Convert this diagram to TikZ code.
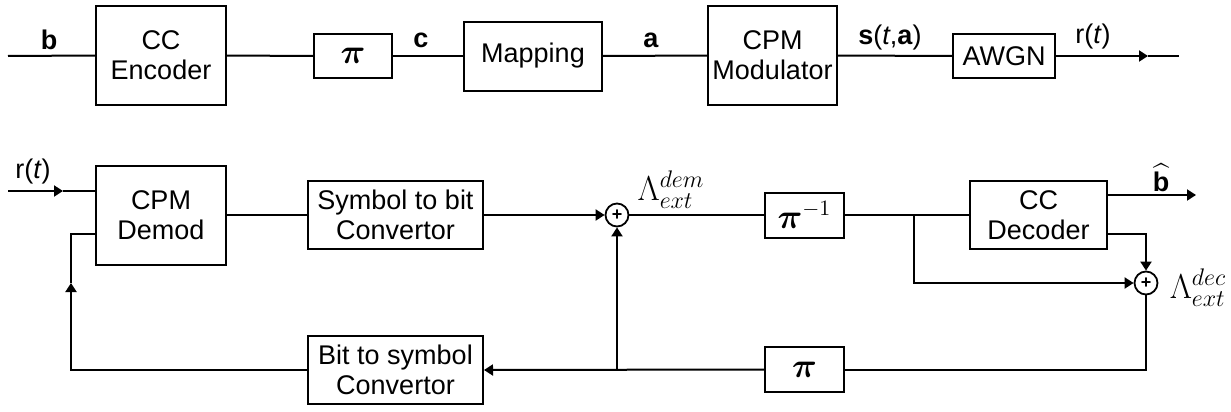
\documentclass[tikz,border=0pt]{standalone}
\usepackage{amsmath}
\usepackage{fontspec}
\setmainfont{Liberation Sans}
\usetikzlibrary{arrows.meta, positioning, calc}

\begin{document}
\begin{tikzpicture}[
    x=0.5pt, y=-0.5pt,
    line width=1pt,
    block/.style={rectangle, draw, line width=1pt, inner sep=1pt, minimum width=#1, align=center, font=\fontsize{13.5}{15}\selectfont},
    sumnode/.style={circle, draw, line width=0.9pt, minimum size=11.5pt, inner sep=0pt, font=\fontsize{9}{9}\selectfont\bfseries},
    sig/.style={font=\fontsize{13.5}{15}\selectfont, inner sep=1pt},
    llr/.style={font=\fontsize{17}{18}\selectfont, inner sep=0pt},
    intl/.style={font=\fontsize{16}{16}\selectfont},
    arr/.style={-{Triangle[length=4.5pt, width=5.5pt]}}
]
\useasboundingbox (0,0) rectangle (1231,412);

% transmitter
\node[block=65pt, minimum height=49.5pt] (enc) at (161,55.5) {CC\\Encoder};
\node[block=39pt, minimum height=22pt, intl] (piA) at (353,56) {$\boldsymbol{\pi}$};
\node[block=69pt, minimum height=34.5pt] (map) at (533,56) {Mapping};
\node[block=64.5pt, minimum height=49.5pt] (mod) at (772.5,55.5) {CPM\\Modulator};
\node[block=51pt, minimum height=22pt] (awgn) at (1004,56) {AWGN};

\coordinate (txin) at (8,56);
\coordinate (txtip) at (1148,56);
\coordinate (txout) at (1179,56);

\draw (txin) -- (enc.west);
\draw (enc.east) -- (piA.west);
\draw (piA.east) -- (map.west);
\draw (map.east) -- (mod.west);
\draw (mod.east) -- (awgn.west);
\draw[arr] (awgn.east) -- (txtip);
\draw (txtip) -- (txout);

\node[sig] (lb) at (49,40) {\textbf{b}};
\node[sig] (lc) at (421,40) {\textbf{c}};
\node[sig] (la) at (651,40) {\textbf{a}};
\node[sig] (ls) at (890,38) {\textbf{s}(\textit{t},\textbf{a})};
\node[sig] (lr) at (1093,37) {r(\textit{t})};

% receiver
\node[block=65pt, minimum height=49.5pt] (demod) at (161,215) {CPM\\Demod};
\node[block=87.5pt, minimum height=34pt] (stb) at (395.5,215) {Symbol to bit\\Convertor};
\node[sumnode] (sumA) at (617,215) {+};
\node[block=39.5pt, minimum height=22.5pt, intl] (piinv) at (804.5,215) {$\boldsymbol{\pi}^{-1}$};
\node[block=68.5pt, minimum height=34pt] (dec) at (1038.5,215) {CC\\Decoder};
\node[sumnode] (sumB) at (1146,283) {+};
\node[block=39.5pt, minimum height=22.5pt, intl] (piB) at (804.5,369.5) {$\boldsymbol{\pi}$};
\node[block=87.5pt, minimum height=34pt] (bts) at (395.5,370) {Bit to symbol\\Convertor};

\coordinate (rxin) at (8,191);
\coordinate (rxtip) at (63,191);
\coordinate (fbtip) at (71,283);
\coordinate (fbin) at (71,234);
\coordinate (branch) at (914,215);
\coordinate (bhat) at (1196,195);
\coordinate (extout) at (1107,234);

\draw[arr] (rxin) -- (rxtip);
\draw (rxtip) -- (rxtip -| demod.west);
\draw (demod.east) -- (stb.west);
\draw[arr] (stb.east) -- (sumA.west);
\draw (sumA.east) -- (piinv.west);
\draw (piinv.east) -- (dec.west);
\draw[arr] (branch) |- (sumB.west);
\draw[arr] (bhat -| dec.east) -- (bhat);
\draw[arr] (extout) -| (sumB.north);
\draw (sumB.south) |- (piB.east);
\draw[arr] (piB.west) -- (bts.east);
\draw[arr] (sumA |- piB) -- (sumA.south);
\draw[arr] (bts.west) -| (fbtip);
\draw (fbtip) -- (fbin) -- (fbin -| demod.west);

\node[sig] (lrx) at (33,172) {r(\textit{t})};
\node[sig] (lbhat) at (1161,178) {$\widehat{\text{\textbf{b}}}$};
\node[llr] (ldem) at (671,190) {$\Lambda^{dem}_{ext}$};
\node[llr] (ldec) at (1198,288) {$\Lambda^{dec}_{ext}$};

\end{tikzpicture}
\end{document}
